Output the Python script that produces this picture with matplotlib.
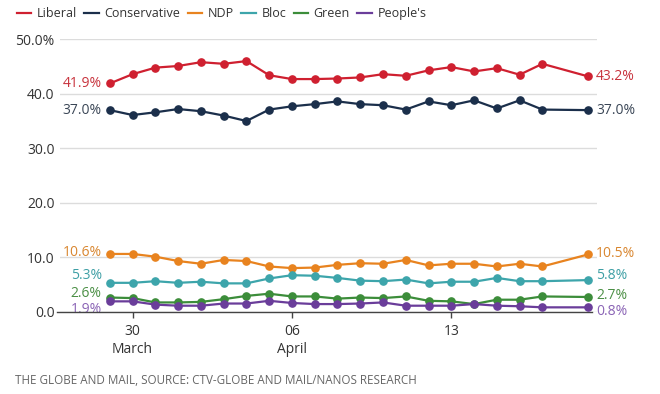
import matplotlib
matplotlib.use("Agg")
import matplotlib.pyplot as plt
import matplotlib.dates as mdates
from matplotlib.lines import Line2D
import pandas as pd

plt.rcParams['font.family'] = ['Open Sans', 'DejaVu Sans']

# ---- data ----
dates = ["2019-03-29", "2019-03-30", "2019-03-31", "2019-04-01", "2019-04-02",
         "2019-04-03", "2019-04-04", "2019-04-05", "2019-04-06", "2019-04-07",
         "2019-04-08", "2019-04-09", "2019-04-10", "2019-04-11", "2019-04-12",
         "2019-04-13", "2019-04-14", "2019-04-15", "2019-04-16", "2019-04-17",
         "2019-04-19"]
liberal = [41.9, 43.6, 44.8, 45.1, 45.8, 45.5, 46.0, 43.4, 42.7, 42.7, 42.8,
           43.0, 43.6, 43.3, 44.3, 44.9, 44.1, 44.7, 43.5, 45.5, 43.2]
conservative = [37.0, 36.1, 36.6, 37.2, 36.8, 36.0, 35.0, 37.1, 37.7, 38.1, 38.6,
                38.1, 37.9, 37.1, 38.6, 37.9, 38.8, 37.3, 38.8, 37.1, 37.0]
ndp = [10.6, 10.6, 10.1, 9.3, 8.8, 9.5, 9.3, 8.3, 8.0, 8.1, 8.6,
       8.9, 8.8, 9.5, 8.5, 8.8, 8.8, 8.3, 8.8, 8.3, 10.5]
bloc = [5.3, 5.3, 5.6, 5.3, 5.5, 5.2, 5.2, 6.1, 6.7, 6.6, 6.2,
        5.7, 5.6, 5.9, 5.2, 5.5, 5.5, 6.2, 5.6, 5.6, 5.8]
green = [2.6, 2.5, 1.7, 1.7, 1.8, 2.3, 2.9, 3.3, 2.8, 2.8, 2.4,
         2.6, 2.5, 2.8, 2.0, 1.9, 1.4, 2.2, 2.2, 2.8, 2.7]
peoples = [1.9, 1.9, 1.3, 1.1, 1.1, 1.5, 1.5, 2.0, 1.6, 1.4, 1.4,
           1.5, 1.7, 1.1, 1.1, 1.1, 1.4, 1.1, 1.0, 0.8, 0.8]
party_names = ["Liberal", "Conservative", "NDP", "Bloc", "Green", "People's"]
yticks = [0, 10, 20, 30, 40, 50]
ytick_labels = ["0.0", "10.0", "20.0", "30.0", "40.0", "50.0%"]
xtick_dates = ["2019-03-30", "2019-04-06", "2019-04-13"]
xtick_labels = ["30\nMarch", "06\nApril", "13"]
source = "THE GLOBE AND MAIL, SOURCE: CTV-GLOBE AND MAIL/NANOS RESEARCH"

# ---- styles ----
colors = ["#cf2030", "#1b2f4b", "#e8831f", "#3da5ab", "#3c8d3a", "#6a3d9a"]
label_colors = ["#c8333d", "#3a4656", "#d9862f", "#3e9fa5", "#4b8f45", "#8a63b5"]
# vertical nudges (pixels) for end labels: (left, right)
nudges = [(0, 0), (0, 0), (1, 0.7), (7.3, 4.7), (3.7, 1.7), (-8.3, -4)]

x = mdates.date2num(pd.to_datetime(dates).to_pydatetime())
series = [liberal, conservative, ndp, bloc, green, peoples]

fig = plt.figure(figsize=(6.6, 3.94), dpi=100)
ax = fig.add_axes([60/660, 1-311.7/394, 537/660, 272.4/394])

for name, vals, c in zip(party_names, series, colors):
    ax.plot(x, vals, color=c, lw=1.6, marker='o', ms=5.2, label=name,
            solid_joinstyle='round', zorder=3)

for vals, lc, (nl, nr) in zip(series, label_colors, nudges):
    ax.annotate(f"{vals[0]:.1f}%", xy=(x[0], vals[0]), xytext=(-8, nl),
                textcoords='offset pixels', ha='right', va='center',
                color=lc, fontsize=10, zorder=2)
    ax.annotate(f"{vals[-1]:.1f}%", xy=(x[-1], vals[-1]), xytext=(8, nr),
                textcoords='offset pixels', ha='left', va='center',
                color=lc, fontsize=10, zorder=2, annotation_clip=False)

ax.xaxis_date()
ax.set_xlim(x[0] - 2.19, x[-1] + 0.4)
ax.set_ylim(0, 50)
ax.set_yticks(yticks)
ax.set_yticklabels(ytick_labels)
ax.set_xticks(mdates.date2num(pd.to_datetime(xtick_dates).to_pydatetime()))
ax.set_xticklabels(xtick_labels, linespacing=1.25)

ax.grid(axis='y', color='#dcdcdc', lw=1)
ax.set_axisbelow(True)
for s in ['top', 'right', 'left']:
    ax.spines[s].set_visible(False)
ax.spines['bottom'].set_color('#444444')
ax.spines['bottom'].set_linewidth(1)
ax.spines['bottom'].set_bounds(x[0] - 2.3, x[-1] + 0.2)
ax.tick_params(axis='y', length=0, pad=4, labelsize=10, labelcolor='#333333')
ax.tick_params(axis='x', length=4, width=1, color='#444444', pad=5,
               labelsize=10, labelcolor='#333333')

hs = [Line2D([0], [0], color=c, lw=1.6) for c in colors]
fig.legend(hs, party_names, loc='upper left', bbox_to_anchor=(0.008, 1.01),
           ncol=6, frameon=False, fontsize=9, handlelength=1.15,
           handletextpad=0.45, columnspacing=0.6, labelcolor='#333333')

fig.text(15/660, 1-380/394, source, fontsize=8.4, color='#666666',
         ha='left', va='center')

fig.savefig("out.png", dpi=100, facecolor='white')
